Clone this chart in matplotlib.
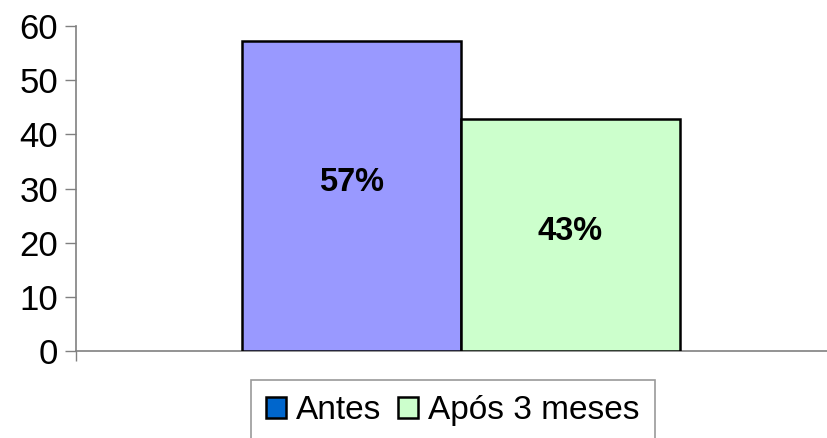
import matplotlib.pyplot as plt
from matplotlib.patches import Patch

plt.rcParams['font.family'] = ['Liberation Sans', 'DejaVu Sans']

# dados
series = ['Antes', 'Após 3 meses']
values = [57.2, 42.8]
labels = ['57%', '43%']
bar_colors = ['#9999FF', '#CCFFCC']
legend_colors = ['#0066CC', '#CCFFCC']
yticks = [0, 10, 20, 30, 40, 50, 60]

fig = plt.figure(figsize=(8.28, 4.38), dpi=100)
ax = fig.add_axes([76 / 828, 1 - 351 / 438, 770 / 828, 325 / 438])

offsets = [-0.5, 0.5]
for off, v, lab, c in zip(offsets, values, labels, bar_colors):
    ax.bar(off, v, width=1.0, color=c, edgecolor='black', linewidth=1.8, zorder=3)
    ax.text(off, (v - 7.7) * 0.63, lab, ha='center', va='center',
            fontsize=23.5, fontweight='bold', zorder=4)

ax.set_xlim(-1.76, 1.76)
ax.set_ylim(0, 60)
ax.set_yticks(yticks)
ax.tick_params(axis='y', labelsize=25, length=8, width=1, color='#808080', pad=5)
ax.set_xticks([-1.76, 1.76])
ax.set_xticklabels([])
ax.tick_params(axis='x', length=7, width=1, color='#808080')

for s in ['top', 'right']:
    ax.spines[s].set_visible(False)
for s in ['left', 'bottom']:
    ax.spines[s].set_color('#808080')
    ax.spines[s].set_linewidth(1.2)

handles = [Patch(facecolor=c, edgecolor='black', linewidth=1.8) for c in legend_colors]
leg = fig.legend(handles, series, loc='upper left', bbox_to_anchor=(251 / 828, 1 - 380 / 438),
                 ncol=2, fontsize=24, frameon=True, fancybox=False,
                 handlelength=0.6, handleheight=0.6, handletextpad=0.3,
                 columnspacing=0.5, borderpad=0.45, borderaxespad=0)
leg.get_frame().set_edgecolor('#808080')
leg.get_frame().set_linewidth(1.2)

fig.savefig('out.png', dpi=100)
